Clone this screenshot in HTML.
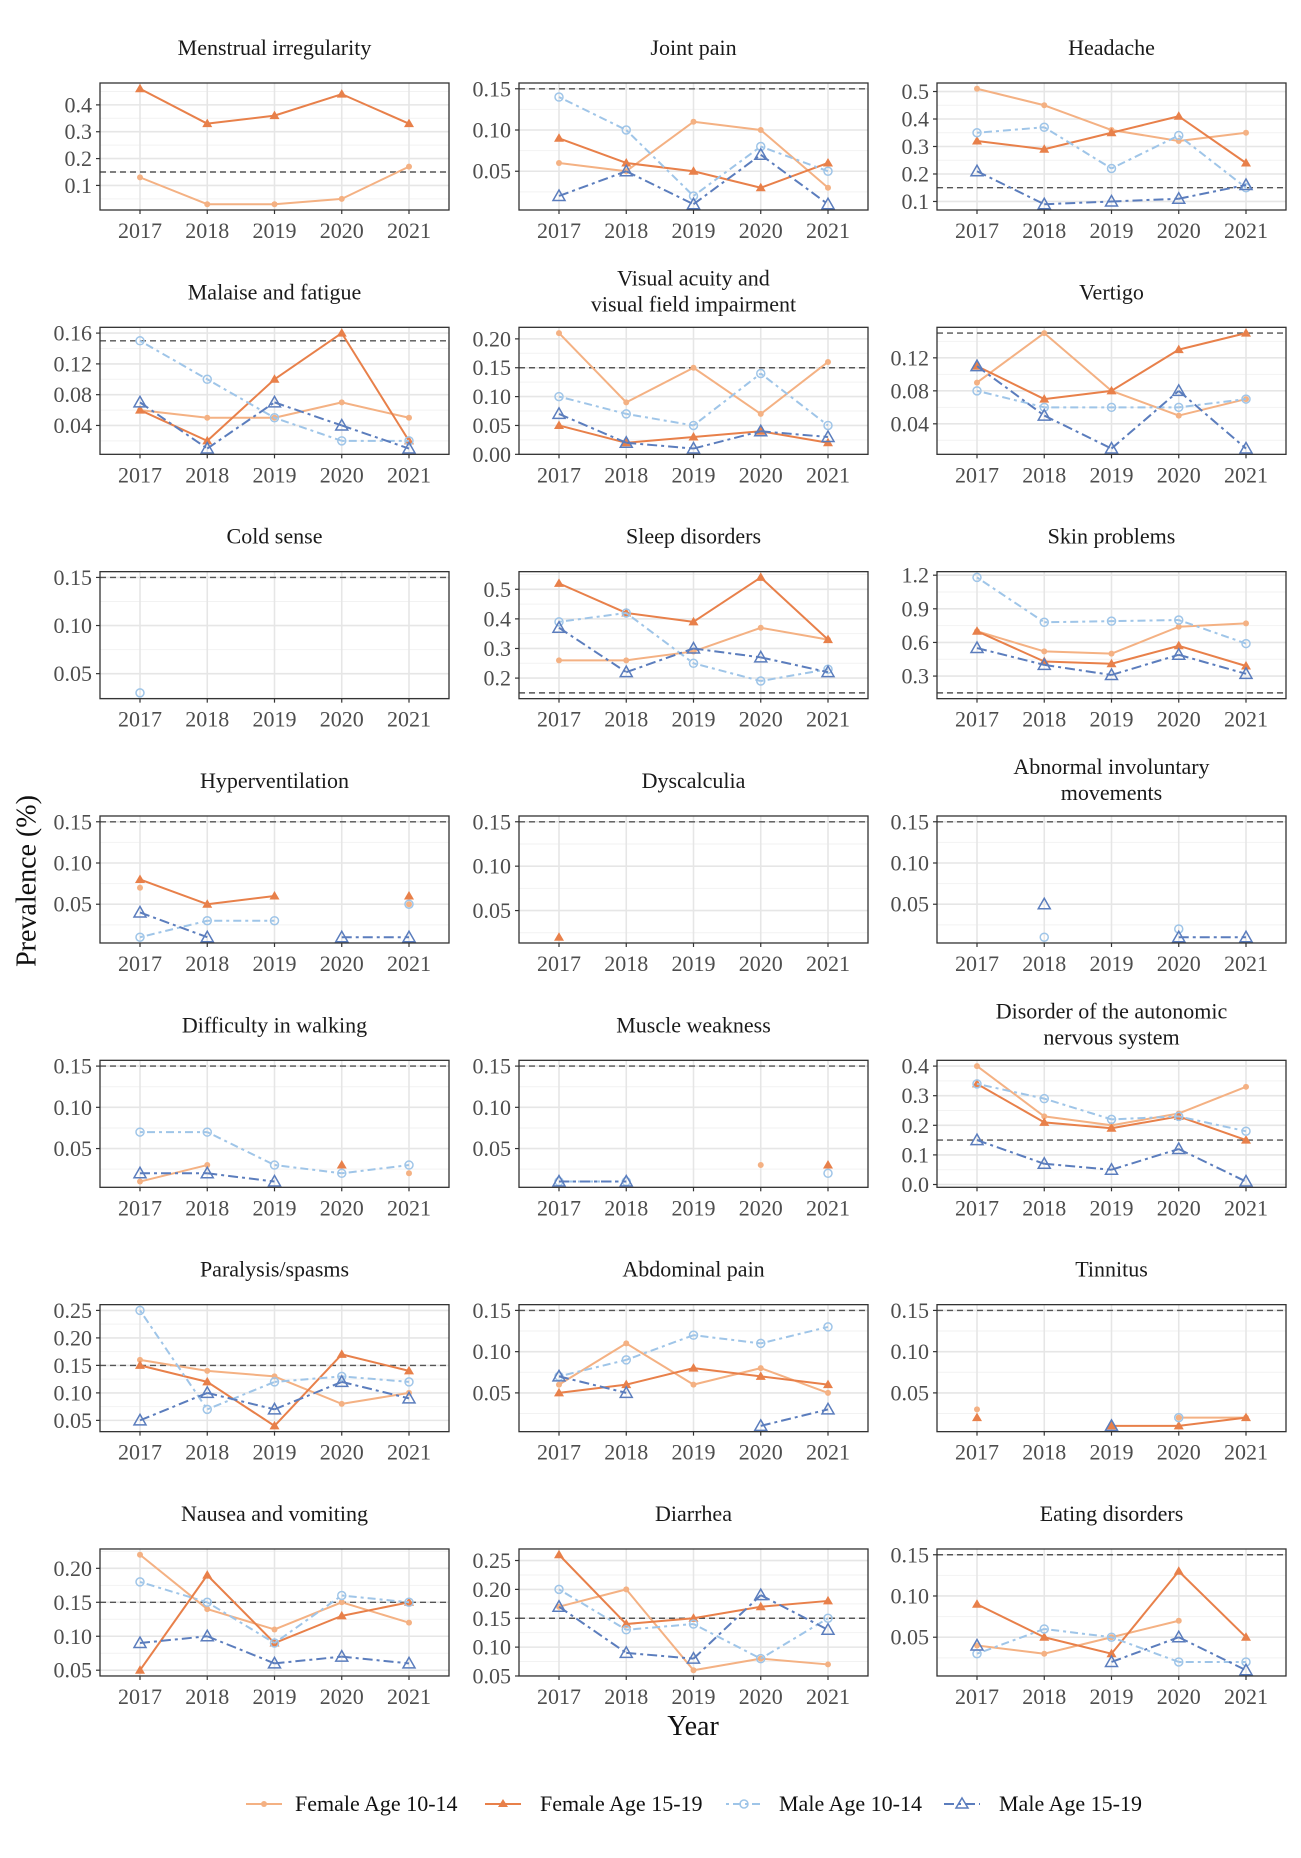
<!DOCTYPE html>
<html><head><meta charset="utf-8">
<style>
html,body{margin:0;padding:0;background:#fff;}
svg{display:block;font-family:"Liberation Serif","DejaVu Serif",serif;}
</style></head>
<body>
<svg id="s" xmlns="http://www.w3.org/2000/svg" width="1301" height="1858" viewBox="0 0 1301 1858">
<rect width="1301" height="1858" fill="#fff"/>
<text x="27" y="881" font-size="28" fill="#111" text-anchor="middle" transform="rotate(-90 27 881)" dominant-baseline="central">Prevalence (%)</text>
<text x="693" y="1735" font-size="28" fill="#111" text-anchor="middle">Year</text>
<g font-size="22" fill="#111">
<line x1="246" y1="1804" x2="282" y2="1804" stroke="#f4b183" stroke-width="2"/><circle cx="264" cy="1804" r="3" fill="#f4b183"/>
<text x="295" y="1811">Female Age 10-14</text>
<line x1="485" y1="1804" x2="521" y2="1804" stroke="#e8804a" stroke-width="2"/><path d="M503 1799 L508 1807 L498 1807Z" fill="#e8804a"/>
<text x="540" y="1811">Female Age 15-19</text>
<line x1="726" y1="1804" x2="762" y2="1804" stroke="#9fc5e8" stroke-width="2" stroke-dasharray="3 4 8 4"/><circle cx="744" cy="1804" r="4" fill="none" stroke="#9fc5e8" stroke-width="1.5"/>
<text x="779" y="1811">Male Age 10-14</text>
<line x1="944" y1="1804" x2="980" y2="1804" stroke="#5b7dbd" stroke-width="2" stroke-dasharray="10 4 3 4"/><path d="M962 1798 L968 1808 L956 1808Z" fill="none" stroke="#5b7dbd" stroke-width="1.5"/>
<text x="999" y="1811">Male Age 15-19</text>
</g>
<g id="panels"></g>
</svg>
<script>
var N=null;
var P=[
{t:["Menstrual irregularity"],b:[.1,.2,.3,.4],d:1,s:[[.13,.03,.03,.05,.17],[.46,.33,.36,.44,.33],[],[]]},
{t:["Joint pain"],b:[.05,.10,.15],d:2,s:[[.06,.05,.11,.10,.03],[.09,.06,.05,.03,.06],[.14,.10,.02,.08,.05],[.02,.05,.01,.07,.01]]},
{t:["Headache"],b:[.1,.2,.3,.4,.5],d:1,s:[[.51,.45,.36,.32,.35],[.32,.29,.35,.41,.24],[.35,.37,.22,.34,.15],[.21,.09,.10,.11,.16]]},
{t:["Malaise and fatigue"],b:[.04,.08,.12,.16],d:2,s:[[.06,.05,.05,.07,.05],[.06,.02,.10,.16,.02],[.15,.10,.05,.02,.02],[.07,.01,.07,.04,.01]]},
{t:["Visual acuity and","visual field impairment"],b:[0,.05,.10,.15,.20],d:2,s:[[.21,.09,.15,.07,.16],[.05,.02,.03,.04,.02],[.10,.07,.05,.14,.05],[.07,.02,.01,.04,.03]]},
{t:["Vertigo"],b:[.04,.08,.12],d:2,s:[[.09,.15,.08,.05,.07],[.11,.07,.08,.13,.15],[.08,.06,.06,.06,.07],[.11,.05,.01,.08,.01]]},
{t:["Cold sense"],b:[.05,.10,.15],d:2,s:[[],[],[.03,N,N,N,N],[]]},
{t:["Sleep disorders"],b:[.2,.3,.4,.5],d:1,s:[[.26,.26,.29,.37,.33],[.52,.42,.39,.54,.33],[.39,.42,.25,.19,.23],[.37,.22,.30,.27,.22]]},
{t:["Skin problems"],b:[.3,.6,.9,1.2],d:1,s:[[.70,.52,.50,.74,.77],[.70,.43,.41,.57,.39],[1.18,.78,.79,.80,.59],[.55,.40,.31,.49,.32]]},
{t:["Hyperventilation"],b:[.05,.10,.15],d:2,s:[[.07,N,N,N,.05],[.08,.05,.06,N,.06],[.01,.03,.03,N,.05],[.04,.01,N,.01,.01]]},
{t:["Dyscalculia"],b:[.05,.10,.15],d:2,s:[[],[.02,N,N,N,N],[],[]]},
{t:["Abnormal involuntary","movements"],b:[.05,.10,.15],d:2,s:[[],[],[N,.01,N,.02,N],[N,.05,N,.01,.01]]},
{t:["Difficulty in walking"],b:[.05,.10,.15],d:2,s:[[.01,.03,N,N,.02],[N,N,N,.03,N],[.07,.07,.03,.02,.03],[.02,.02,.01,N,N]]},
{t:["Muscle weakness"],b:[.05,.10,.15],d:2,s:[[N,N,N,.03,N],[N,N,N,N,.03],[.01,.01,N,N,.02],[.01,.01,N,N,N]]},
{t:["Disorder of the autonomic","nervous system"],b:[0,.1,.2,.3,.4],d:1,s:[[.40,.23,.20,.24,.33],[.34,.21,.19,.23,.15],[.34,.29,.22,.23,.18],[.15,.07,.05,.12,.01]]},
{t:["Paralysis/spasms"],b:[.05,.10,.15,.20,.25],d:2,s:[[.16,.14,.13,.08,.10],[.15,.12,.04,.17,.14],[.25,.07,.12,.13,.12],[.05,.10,.07,.12,.09]]},
{t:["Abdominal pain"],b:[.05,.10,.15],d:2,s:[[.06,.11,.06,.08,.05],[.05,.06,.08,.07,.06],[.07,.09,.12,.11,.13],[.07,.05,N,.01,.03]]},
{t:["Tinnitus"],b:[.05,.10,.15],d:2,s:[[.03,N,N,.02,.02],[.02,N,.01,.01,.02],[N,N,N,.02,N],[N,N,.01,N,N]]},
{t:["Nausea and vomiting"],b:[.05,.10,.15,.20],d:2,s:[[.22,.14,.11,.15,.12],[.05,.19,.09,.13,.15],[.18,.15,.09,.16,.15],[.09,.10,.06,.07,.06]]},
{t:["Diarrhea"],b:[.05,.10,.15,.20,.25],d:2,s:[[.17,.20,.06,.08,.07],[.26,.14,.15,.17,.18],[.20,.13,.14,.08,.15],[.17,.09,.08,.19,.13]]},
{t:["Eating disorders"],b:[.05,.10,.15],d:2,s:[[.04,.03,.05,.07,N],[.09,.05,.03,.13,.05],[.03,.06,.05,.02,.02],[.04,N,.02,.05,.01]]}
];
var COL=["#f4b183","#e8804a","#9fc5e8","#5b7dbd"];
var DASH=["","","3 4 8 4","10 4 3 4"];
var X0=[100,519,937],W=349,H=127,Y0=83,PITCH=244.33;
var out=[];
P.forEach(function(p,k){
 var r=Math.floor(k/3),c=k%3,x0=X0[c],y0=Y0+r*PITCH;
 var vals=[.15];p.s.forEach(function(a){a.forEach(function(v){if(v!==N)vals.push(v);});});
 var mn=Math.min.apply(0,vals),mx=Math.max.apply(0,vals),rg=mx-mn;
 var lo=mn-.05*rg,hi=mx+.05*rg;
 function Y(v){return y0+H*(hi-v)/(hi-lo);}
 function X(i){return x0+40+i*67.25;}
 if(p.t.length==1) out.push('<text x="'+(x0+W/2)+'" y="'+(y0-28)+'" font-size="22" fill="#1a1a1a" text-anchor="middle">'+p.t[0]+'</text>');
 else{out.push('<text x="'+(x0+W/2)+'" y="'+(y0-42)+'" font-size="22" fill="#1a1a1a" text-anchor="middle">'+p.t[0]+'</text>');
      out.push('<text x="'+(x0+W/2)+'" y="'+(y0-16)+'" font-size="22" fill="#1a1a1a" text-anchor="middle">'+p.t[1]+'</text>');}
 var b=p.b,st=b[1]-b[0];
 var minors=[];for(var m=b[0]-st/2;m<=b[b.length-1]+st/2+1e-9;m+=st)minors.push(m);
 out.push('<clipPath id="c'+k+'"><rect x="'+x0+'" y="'+y0+'" width="'+W+'" height="'+H+'"/></clipPath>');
 out.push('<g clip-path="url(#c'+k+')">');
 minors.forEach(function(m){if(m>lo&&m<hi)out.push('<line x1="'+x0+'" x2="'+(x0+W)+'" y1="'+Y(m)+'" y2="'+Y(m)+'" stroke="#f2f2f2" stroke-width="1"/>');});
 b.forEach(function(v){out.push('<line x1="'+x0+'" x2="'+(x0+W)+'" y1="'+Y(v)+'" y2="'+Y(v)+'" stroke="#e6e6e6" stroke-width="1.6"/>');});
 for(var i=0;i<5;i++)out.push('<line x1="'+X(i)+'" x2="'+X(i)+'" y1="'+y0+'" y2="'+(y0+H)+'" stroke="#e6e6e6" stroke-width="1.6"/>');
 out.push('<line x1="'+x0+'" x2="'+(x0+W)+'" y1="'+Y(.15)+'" y2="'+Y(.15)+'" stroke="#555" stroke-width="1.4" stroke-dasharray="6 4"/>');
 p.s.forEach(function(a,si){
  for(var i=0;i<a.length-1;i++){if(a[i]!==N&&a[i+1]!==N)out.push('<line x1="'+X(i)+'" y1="'+Y(a[i])+'" x2="'+X(i+1)+'" y2="'+Y(a[i+1])+'" stroke="'+COL[si]+'" stroke-width="2"'+(DASH[si]?' stroke-dasharray="'+DASH[si]+'"':'')+'/>');}
  a.forEach(function(v,i){if(v===N)return;var x=X(i),y=Y(v);
   if(si==0)out.push('<circle cx="'+x+'" cy="'+y+'" r="3" fill="'+COL[0]+'"/>');
   else if(si==1)out.push('<path d="M'+x+' '+(y-5)+'L'+(x+5)+' '+(y+3.5)+'L'+(x-5)+' '+(y+3.5)+'Z" fill="'+COL[1]+'"/>');
   else if(si==2)out.push('<circle cx="'+x+'" cy="'+y+'" r="4" fill="none" stroke="'+COL[2]+'" stroke-width="1.5"/>');
   else out.push('<path d="M'+x+' '+(y-6)+'L'+(x+6)+' '+(y+4.5)+'L'+(x-6)+' '+(y+4.5)+'Z" fill="none" stroke="'+COL[3]+'" stroke-width="1.5"/>');
  });
 });
 out.push('</g>');
 out.push('<rect x="'+x0+'" y="'+y0+'" width="'+W+'" height="'+H+'" fill="none" stroke="#333" stroke-width="1.3"/>');
 b.forEach(function(v){var y=Y(v);if(y<y0-1||y>y0+H+1)return;
  out.push('<line x1="'+(x0-4)+'" x2="'+x0+'" y1="'+y+'" y2="'+y+'" stroke="#333" stroke-width="1.2"/>');
  out.push('<text x="'+(x0-8)+'" y="'+(y+7.5)+'" font-size="22" fill="#4d4d4d" text-anchor="end">'+v.toFixed(p.d)+'</text>');});
 for(var i=0;i<5;i++){out.push('<line x1="'+X(i)+'" x2="'+X(i)+'" y1="'+(y0+H)+'" y2="'+(y0+H+4)+'" stroke="#333" stroke-width="1.2"/>');
  out.push('<text x="'+X(i)+'" y="'+(y0+H+28)+'" font-size="22" fill="#4d4d4d" text-anchor="middle">'+(2017+i)+'</text>');}
});
document.getElementById('panels').innerHTML=out.join('');
</script>
</body></html>
